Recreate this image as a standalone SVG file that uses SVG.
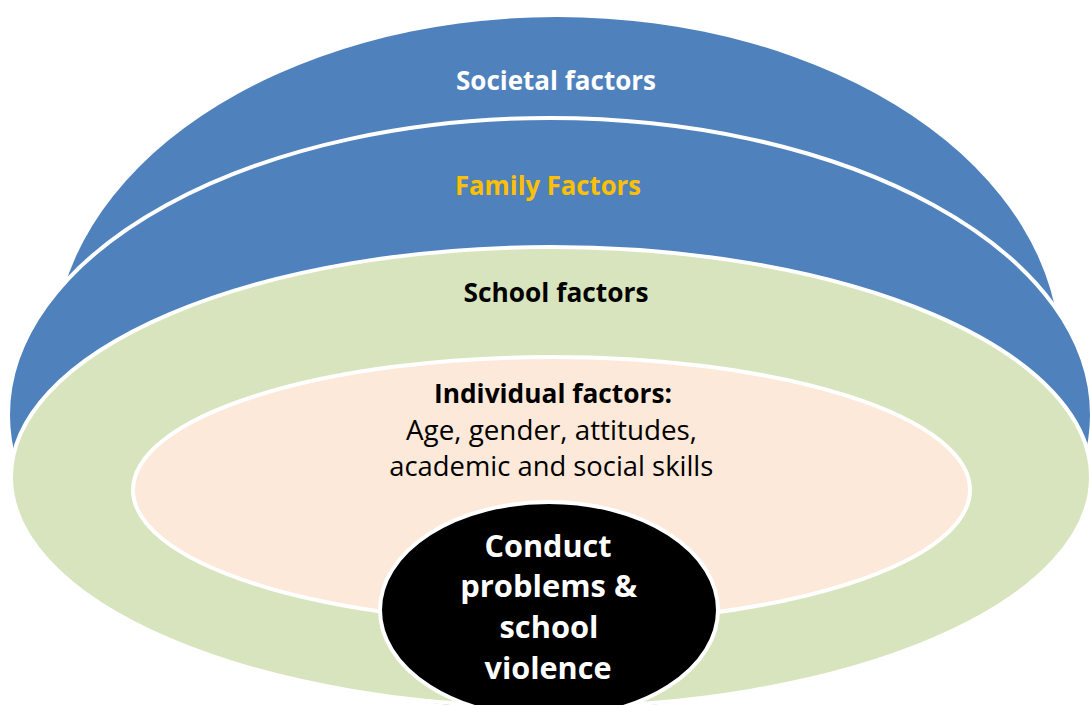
<svg xmlns="http://www.w3.org/2000/svg" width="1090" height="705" viewBox="0 0 1090 705">
  <style>
    .ring { stroke: #FFFFFF; stroke-width: 4; }
    .blue { fill: #4F81BD; }
    .green { fill: #D7E4BD; }
    .peach { fill: #FDE9D9; }
    .core { fill: #000000; }
    text { font-family: "Open Sans", "Liberation Sans", sans-serif; text-anchor: middle; }
    .b { font-weight: bold; font-size: 27px; }
    .r { font-weight: normal; font-size: 27px; }
    .c { font-weight: bold; font-size: 30px; fill: #FFFFFF; }
  </style>
  <rect x="0" y="0" width="1090" height="705" fill="#FFFFFF"/>
  <g id="societal">
    <ellipse class="blue" cx="557" cy="355" rx="503" ry="338"/>
    <text class="b" x="556" y="90" fill="#FFFFFF" textLength="200" lengthAdjust="spacingAndGlyphs">Societal factors</text>
  </g>
  <g id="family">
    <ellipse class="blue ring" cx="550" cy="415" rx="542" ry="297"/>
    <text class="b" x="548" y="195" fill="#FFC000" textLength="186" lengthAdjust="spacingAndGlyphs">Family Factors</text>
  </g>
  <g id="school">
    <ellipse class="green ring" cx="551" cy="477" rx="540" ry="230"/>
    <text class="b" x="556" y="302" fill="#000000" textLength="185" lengthAdjust="spacingAndGlyphs">School factors</text>
  </g>
  <g id="individual">
    <ellipse class="peach ring" cx="551.5" cy="490" rx="418.5" ry="133"/>
    <text class="b" x="553" y="403" fill="#000000" textLength="238" lengthAdjust="spacingAndGlyphs">Individual factors:</text>
    <text class="r" x="551.5" y="440" fill="#000000" textLength="291" lengthAdjust="spacingAndGlyphs">Age, gender, attitudes,</text>
    <text class="r" x="551.3" y="476" fill="#000000" textLength="324" lengthAdjust="spacingAndGlyphs">academic and social skills</text>
  </g>
  <g id="conduct">
    <ellipse class="core ring" cx="549" cy="610" rx="169" ry="108"/>
    <text class="c" x="548" y="557" textLength="127" lengthAdjust="spacingAndGlyphs">Conduct</text>
    <text class="c" x="548.7" y="597" textLength="177" lengthAdjust="spacingAndGlyphs">problems &amp;</text>
    <text class="c" x="549" y="638" textLength="99" lengthAdjust="spacingAndGlyphs">school</text>
    <text class="c" x="548" y="679" textLength="127" lengthAdjust="spacingAndGlyphs">violence</text>
  </g>
  <g id="connectors"/>
</svg>
